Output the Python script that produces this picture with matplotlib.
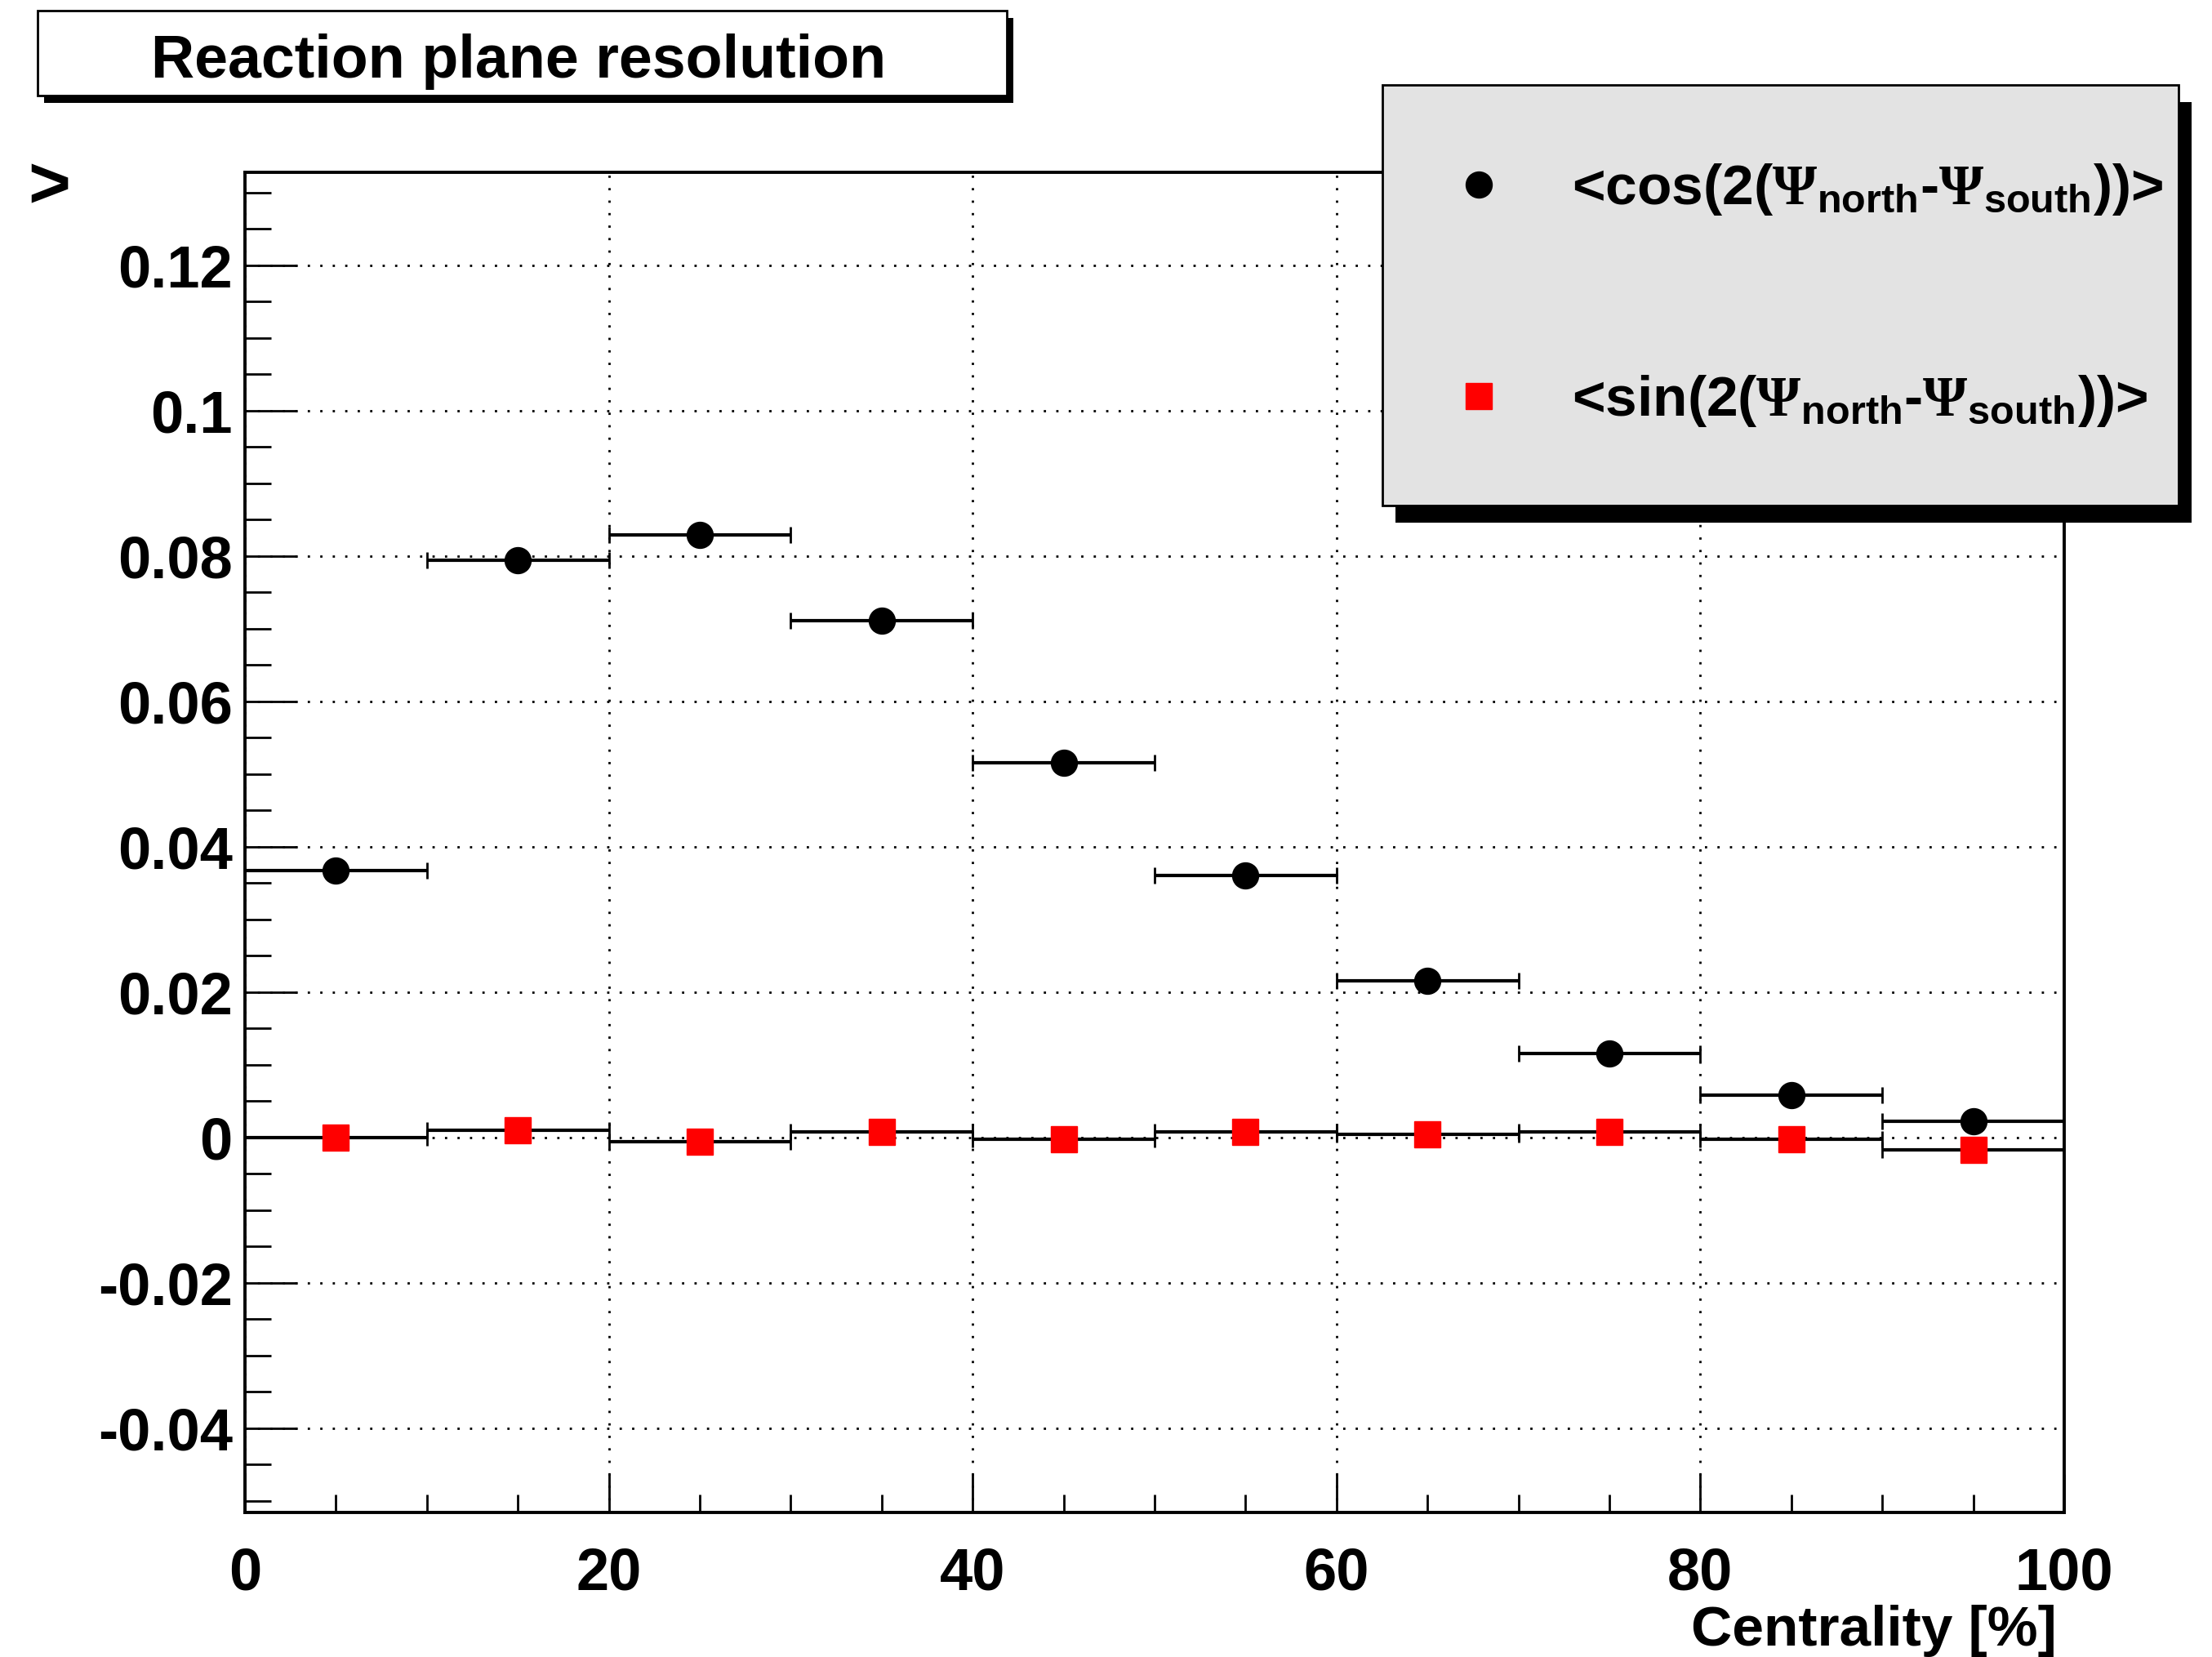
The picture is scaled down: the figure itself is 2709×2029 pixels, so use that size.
import matplotlib
matplotlib.use("Agg")
import matplotlib.pyplot as plt
from matplotlib import font_manager
from matplotlib.patches import Rectangle
from matplotlib.ticker import MultipleLocator, FuncFormatter

names = {f.name for f in font_manager.fontManager.ttflist}
narrow = "Liberation Sans Narrow" if "Liberation Sans Narrow" in names else "Liberation Sans"

plt.rcParams["font.family"] = ["Liberation Sans", "DejaVu Sans"]
plt.rcParams["font.weight"] = "bold"
plt.rcParams["mathtext.fontset"] = "custom"
plt.rcParams["mathtext.rm"] = "Liberation Serif"
plt.rcParams["mathtext.it"] = narrow + ":bold"
plt.rcParams["mathtext.bf"] = narrow + ":bold"

# data: centrality bins (10% wide) and mean values
centrality = [5, 15, 25, 35, 45, 55, 65, 75, 85, 95]
bin_half = [5, 5, 5, 5, 5, 5, 5, 5, 5, 5]
cos_vals = [0.0367, 0.0794, 0.0829, 0.0711, 0.0515, 0.0361, 0.0215, 0.0116, 0.0058, 0.0022]
sin_vals = [0.0000, 0.0010, -0.0006, 0.0008, -0.0002, 0.0008, 0.0004, 0.0008, -0.0003, -0.0017]
cos_label = r"<cos(2($\Psi_{north}$-$\Psi_{south}$))>"
sin_label = r"<sin(2($\Psi_{north}$-$\Psi_{south}$))>"

W, H = 2709, 2029
fig = plt.figure(figsize=(W / 100, H / 100), dpi=100)

def fx(px):
    return px / W

def fy(py):
    return 1 - py / H

ax = fig.add_axes([fx(300), fy(1852), fx(2528) - fx(300), fy(211) - fy(1852)])
ax.set_xlim(0, 100)
ax.set_ylim(-0.0516, 0.1328)

ax.grid(True, which="major", color="black", linestyle=(0, (1, 4.5)), linewidth=2)
ax.set_axisbelow(True)

eb1 = ax.errorbar(centrality, cos_vals, xerr=bin_half, fmt="o", color="black",
                  markersize=23, elinewidth=3, capsize=7, capthick=2, zorder=3)
eb2 = ax.errorbar(centrality, sin_vals, xerr=bin_half, fmt="s", color="black",
                  mfc="red", mec="red", markersize=23, elinewidth=3, capsize=7,
                  capthick=2, zorder=3)

ax.xaxis.set_major_locator(MultipleLocator(20))
ax.xaxis.set_minor_locator(MultipleLocator(5))
ax.yaxis.set_major_locator(MultipleLocator(0.02))
ax.yaxis.set_minor_locator(MultipleLocator(0.005))
ax.yaxis.set_major_formatter(FuncFormatter(lambda v, p: f"{v:g}" if abs(v) > 1e-9 else "0"))
ax.xaxis.set_major_formatter(FuncFormatter(lambda v, p: f"{v:g}"))
ax.tick_params(axis="x", which="major", direction="in", length=34, width=2, labelsize=52, pad=30)
ax.tick_params(axis="x", which="minor", direction="in", length=16, width=2)
ax.tick_params(axis="y", which="major", direction="in", length=46, width=2, labelsize=52, pad=11)
ax.tick_params(axis="y", which="minor", direction="in", length=23, width=2)
for s in ax.spines.values():
    s.set_linewidth(2.8)

fig.text(fx(2519), fy(2015), "Centrality [%]", ha="right", va="baseline",
         fontsize=50, fontweight="bold")
fig.text(fx(34), fy(254), ">", ha="left", va="baseline", fontsize=64, fontweight="bold")

# title box
fig.patches.append(Rectangle((fx(54), fy(126)), fx(1241) - fx(54), fy(22) - fy(126),
                             transform=fig.transFigure, facecolor="black",
                             edgecolor="none", zorder=5))
fig.patches.append(Rectangle((fx(46), fy(117)), fx(1233) - fx(46), fy(13) - fy(117),
                             transform=fig.transFigure, facecolor="white",
                             edgecolor="black", linewidth=2, zorder=6))
fig.text(fx(635), fy(95), "Reaction plane resolution", ha="center", va="baseline",
         fontsize=53, fontweight="bold", family=[narrow, "DejaVu Sans"], zorder=7)

# legend box
fig.patches.append(Rectangle((fx(1709), fy(640)), fx(2684) - fx(1709), fy(125) - fy(640),
                             transform=fig.transFigure, facecolor="black",
                             edgecolor="none", zorder=5))
fig.patches.append(Rectangle((fx(1693), fy(619)), fx(2668) - fx(1693), fy(104) - fy(619),
                             transform=fig.transFigure, facecolor="#e3e3e3",
                             edgecolor="black", linewidth=2, zorder=6))
leg = fig.legend([eb1.lines[0], eb2.lines[0]], [cos_label, sin_label],
                 loc="upper left", bbox_to_anchor=(fx(1776), fy(198)),
                 frameon=False, numpoints=1, handlelength=1.0, handletextpad=1.15,
                 borderpad=0, borderaxespad=0, labelspacing=2.75,
                 prop={"family": narrow, "weight": "bold", "size": 50})
leg.set_zorder(8)

fig.savefig("out.png", dpi=100)
